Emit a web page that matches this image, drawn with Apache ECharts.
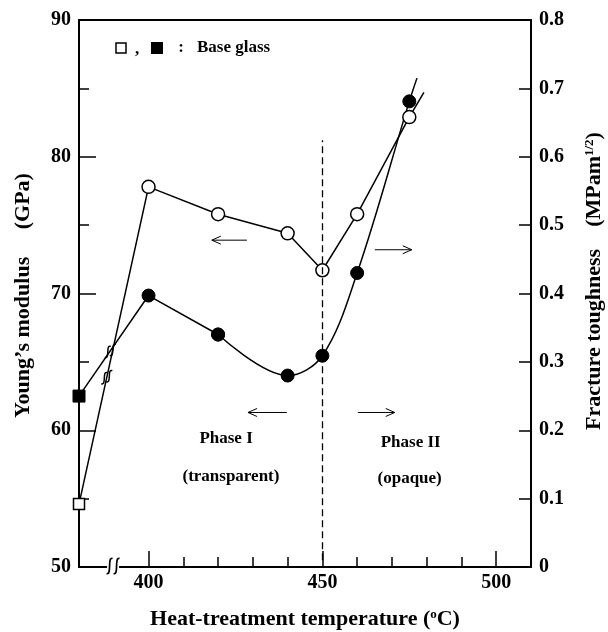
<!DOCTYPE html>
<html><head><meta charset="utf-8">
<script src="https://cdn.jsdelivr.net/npm/echarts@6/dist/echarts.min.js"></script>
<style>html,body{margin:0;padding:0;background:#fff}#c{width:608px;height:632px}</style>
</head><body><div id="c"></div>
<script>
// ---- data ----
const temps = [380, 400, 420, 440, 450, 460, 475];            // base glass plotted at 380
const youngsModulus = [54.6, 77.8, 75.8, 74.4, 71.7, 75.8, 82.9]; // GPa (open symbols)
const fractureToughness = [0.250, 0.397, 0.340, 0.280, 0.309, 0.430, 0.681]; // MPa m^1/2 (filled)
const youngsTail = [479.2, 84.7];       // end of the drawn open curve
const toughnessTail = [477.2, 0.715];   // end of the drawn filled curve
const xLabelTicks = [400, 450, 500];
const xMinorTicks = [410, 420, 430, 440, 460, 470, 480, 490];
const yLeftLabels = [50, 60, 70, 80, 90];
const yLeftMajorTicks = [60, 70, 80];
const yLeftMinorTicks = [55, 65, 75, 85];
const yRightTicks = [0, 0.1, 0.2, 0.3, 0.4, 0.5, 0.6, 0.7, 0.8];
const phaseBoundary = 450;
const boundaryRange = [50.5, 81.2];
const axisBreakT = 389.8;
const phaseTexts = [
  {text: 'Phase I', t: 422.3, v: 59.4},
  {text: '(transparent)', t: 423.7, v: 56.6},
  {text: 'Phase II', t: 475.4, v: 59.1},
  {text: '(opaque)', t: 475.1, v: 56.5}
];
const arrows = [
  {from: 428.3, to: 418.2, v: 73.9},
  {from: 465.1, to: 475.7, v: 73.2},
  {from: 439.8, to: 428.6, v: 61.3},
  {from: 460.2, to: 470.8, v: 61.3}
];

const FONT = '"Liberation Serif", "Times New Roman", serif';
const black = '#000';

const openData = temps.map((t, i) => i === 0
  ? {value: [t, youngsModulus[i]], symbol: 'rect', symbolSize: 11}
  : [t, youngsModulus[i]]);
openData.push({value: youngsTail, symbol: 'none'});

const filledAll = temps.map((t, i) => i === 0
  ? {value: [t, fractureToughness[i]], symbol: 'rect', symbolSize: 12}
  : [t, fractureToughness[i]]);
const filledStraight = filledAll.slice(0, 3);
const filledSmooth = filledAll.slice(2);
filledSmooth.push({value: toughnessTail, symbol: 'none'});

const tickLbl = {color: black, fontFamily: FONT, fontWeight: 'bold', fontSize: 20};

const option = {
  animation: false,
  backgroundColor: '#fff',
  grid: {left: 79, right: 77, top: 20, bottom: 65, containLabel: false, outerBoundsMode: 'none'},
  xAxis: [
    {type: 'value', min: 380, max: 510, position: 'bottom',
     axisLine: {onZero: false, lineStyle: {color: black, width: 2}},
     axisTick: {inside: true, length: 16, customValues: xLabelTicks, lineStyle: {color: black, width: 1.5}},
     axisLabel: Object.assign({customValues: xLabelTicks, margin: 6}, tickLbl),
     splitLine: {show: false},
     name: 'Heat-treatment temperature ({sup|o}C)', nameLocation: 'middle', nameGap: 41,
     nameTextStyle: {color: black, fontFamily: FONT, fontWeight: 'bold', fontSize: 22,
       rich: {sup: {fontSize: 13, fontFamily: FONT, fontWeight: 'bold', verticalAlign: 'top', color: black}}}
    },
    {type: 'value', min: 380, max: 510, position: 'bottom',
     axisLine: {show: false},
     axisTick: {inside: true, length: 10, customValues: xMinorTicks, lineStyle: {color: black, width: 1.5}},
     axisLabel: {show: false}, splitLine: {show: false}},
    {type: 'value', min: 380, max: 510, position: 'top',
     axisLine: {onZero: false, lineStyle: {color: black, width: 2}},
     axisTick: {show: false}, axisLabel: {show: false}, splitLine: {show: false}}
  ],
  yAxis: [
    {type: 'value', min: 50, max: 90, interval: 5, position: 'left',
     axisLine: {onZero: false, lineStyle: {color: black, width: 2}},
     axisTick: {inside: true, length: 17, customValues: yLeftMajorTicks, lineStyle: {color: black, width: 1.5}},
     axisLabel: Object.assign({customValues: yLeftLabels, margin: 8}, tickLbl),
     splitLine: {show: false},
     name: 'Young\u2019s modulus     (GPa)', nameLocation: 'middle', nameRotate: 90, nameGap: 45,
     nameTextStyle: {color: black, fontFamily: FONT, fontWeight: 'bold', fontSize: 22, padding: [0, 4, 0, 0]}
    },
    {type: 'value', min: 0, max: 0.8, interval: 0.1, position: 'right',
     axisLine: {onZero: false, lineStyle: {color: black, width: 2}},
     axisTick: {inside: true, length: 12, customValues: yRightTicks, lineStyle: {color: black, width: 1.5}},
     axisLabel: Object.assign({customValues: yRightTicks, margin: 8,
       formatter: v => (Math.abs(v) < 1e-9 ? '0' : v.toFixed(1))}, tickLbl),
     splitLine: {show: false},
     name: 'Fracture toughness    (MPam{sup|1/2})', nameLocation: 'middle', nameRotate: 90, nameGap: 52,
     nameTextStyle: {color: black, fontFamily: FONT, fontWeight: 'bold', fontSize: 22, padding: [0, 0, 0, 25],
       rich: {sup: {fontSize: 13, fontFamily: FONT, fontWeight: 'bold', verticalAlign: 'top', color: black}}}
    },
    {type: 'value', min: 50, max: 90, position: 'left',
     axisLine: {show: false},
     axisTick: {inside: true, length: 10, customValues: yLeftMinorTicks, lineStyle: {color: black, width: 1.5}},
     axisLabel: {show: false}, splitLine: {show: false}}
  ],
  series: [
    {name: 'Young', type: 'line', xAxisIndex: 0, yAxisIndex: 0, data: openData,
     symbol: 'circle', symbolSize: 13, showSymbol: true, z: 4,
     lineStyle: {color: black, width: 1.5},
     itemStyle: {color: '#fff', borderColor: black, borderWidth: 1.5},
     markLine: {silent: true, symbol: ['none', 'none'], label: {show: false},
       lineStyle: {color: black, type: [7, 4], width: 1.3},
       data: [[{coord: [phaseBoundary, boundaryRange[0]]}, {coord: [phaseBoundary, boundaryRange[1]]}]]}
    },
    {name: 'ToughnessA', type: 'line', xAxisIndex: 0, yAxisIndex: 1, data: filledStraight,
     symbol: 'circle', symbolSize: 13, showSymbol: true, z: 3,
     lineStyle: {color: black, width: 1.5},
     itemStyle: {color: black, borderColor: black, borderWidth: 1}},
    {name: 'ToughnessB', type: 'line', xAxisIndex: 0, yAxisIndex: 1, data: filledSmooth, smooth: 0.35,
     symbol: 'circle', symbolSize: 13, showSymbol: true, z: 3,
     lineStyle: {color: black, width: 1.5},
     itemStyle: {color: black, borderColor: black, borderWidth: 1}}
  ]
};

const chart = echarts.init(document.getElementById('c'), null, {renderer: 'canvas'});
chart.setOption(option);

const pxL = (t, v) => chart.convertToPixel({seriesIndex: 0}, [t, v]);
const pxR = (t, v) => chart.convertToPixel({seriesIndex: 1}, [t, v]);
const interp = (arr, t) => arr[0] + (arr[1] - arr[0]) * (t - temps[0]) / (temps[1] - temps[0]);

const g = [];
// legend
g.push({type: 'rect', shape: {x: 116, y: 43, width: 10, height: 10}, style: {fill: '#fff', stroke: black, lineWidth: 1.5}});
g.push({type: 'text', style: {text: ',', x: 137, y: 50, fill: black, font: 'bold 17px ' + FONT, textAlign: 'center', textVerticalAlign: 'middle'}});
g.push({type: 'rect', shape: {x: 151, y: 42, width: 12, height: 12}, style: {fill: black}});
g.push({type: 'text', style: {text: ':', x: 181, y: 48, fill: black, font: 'bold 17px ' + FONT, textAlign: 'center', textVerticalAlign: 'middle'}});
g.push({type: 'text', style: {text: 'Base glass', x: 197, y: 48, fill: black, font: 'bold 17px ' + FONT, textAlign: 'left', textVerticalAlign: 'middle'}});

// phase texts
phaseTexts.forEach(p => {
  const [x, y] = pxL(p.t, p.v);
  g.push({type: 'text', z: 10, style: {text: p.text, x, y, fill: black, font: 'bold 17px ' + FONT, textAlign: 'center', textVerticalAlign: 'middle'}});
});
// arrows
arrows.forEach(a => {
  const [x1, y1] = pxL(a.from, a.v);
  const [x2, y2] = pxL(a.to, a.v);
  const d = Math.sign(x2 - x1);
  g.push({type: 'line', z: 10, shape: {x1, y1, x2, y2}, style: {stroke: black, lineWidth: 1}});
  g.push({type: 'polyline', z: 10, shape: {points: [[x2 - d * 9, y2 - 4], [x2, y2], [x2 - d * 9, y2 + 4]]}, style: {stroke: black, lineWidth: 1, fill: null}});
});
// break marks
function sMark(cx, cy, h, w) {
  return {type: 'bezierCurve', z: 12, shape: {x1: cx - 3, y1: cy + h, cpx1: cx + 2.5, cpy1: cy + h + 2, cpx2: cx - 2.5, cpy2: cy - h - 2, x2: cx + 3, y2: cy - h}, style: {stroke: black, lineWidth: w, fill: null}};
}
{
  const [bx, by] = pxL(axisBreakT, 50);
  g.push({type: 'rect', z: 11, shape: {x: bx - 6, y: by - 3, width: 12, height: 6}, style: {fill: '#fff'}});
  g.push(sMark(bx - 3.5, by - 1, 7.5, 1.7));
  g.push(sMark(bx + 3.5, by - 1, 7.5, 1.7));
  const [ox, oy] = pxL(388, interp(youngsModulus, 388));
  g.push(sMark(ox - 2.5, oy + 1, 5.5, 1.5));
  g.push(sMark(ox + 2.5, oy - 1, 5.5, 1.5));
  const [fx, fy] = pxR(389, interp(fractureToughness, 389));
  g.push(sMark(fx - 2.5, fy + 1, 5.5, 1.5));
  g.push(sMark(fx + 2.5, fy - 1, 5.5, 1.5));
}
chart.setOption({graphic: g});
</script>
</body></html>
